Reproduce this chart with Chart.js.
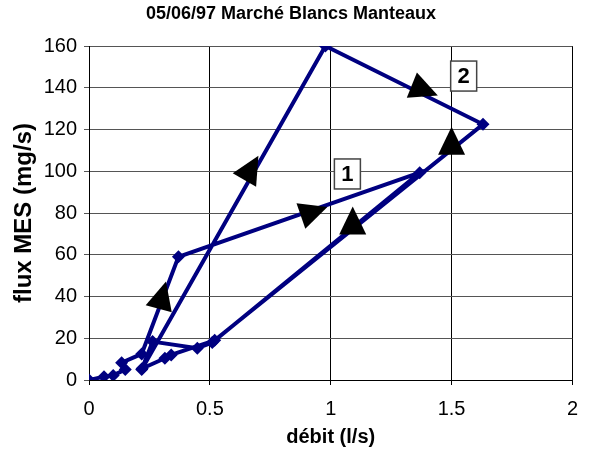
<!DOCTYPE html>
<html>
<head>
<meta charset="utf-8">
<script src="https://cdn.jsdelivr.net/npm/chart.js@4"></script>
<style>
  html, body { margin: 0; padding: 0; background: #fff; }
  #wrap { width: 590px; height: 466px; }
</style>
</head>
<body>
<div id="wrap"><canvas id="chart"></canvas></div>
<script>
// débit (l/s) and flux MES (mg/s), in the order the points are joined
const debit   = [0, 0.062, 0.10, 0.15, 0.135, 0.218, 0.37, 1.368, 0.51, 0.448, 0.263, 0.218, 0.978, 1.63, 0.52, 0.34, 0.314, 0.22];
const fluxMES = [0, 1.6,   2.2,  5,    8.3,   12.5,  59,   99.3,  18,   15.2,  18.4,  5,     160,   122.5, 19,   12,   10.4,  5.5];

// axis ticks
const xTicks = [0, 0.5, 1, 1.5, 2];
const xTickLabels = ['0', '0.5', '1', '1.5', '2'];

// hand drawn arrows on the loops (data position, direction in degrees on screen)
const arrowX     = [0.302, 0.669, 0.926, 1.091, 1.50, 1.384];
const arrowY     = [40,    101,   80.5,  75.7,  114,  139];
const arrowAngle = [-75,   -60,   -19,   -90,   -90,  22];

// boxed loop numbers
const loopLabels = ['1', '2'];
const loopX      = [1.069, 1.55];
const loopY      = [98.7, 145.6];

const navy = '#000080';
const font = '"Liberation Sans", Arial, sans-serif';

const annotations = {
    id: 'annotations',
    afterDatasetsDraw(chart) {
        const ctx = chart.ctx;
        const xs = chart.scales.x;
        const ys = chart.scales.y;
        ctx.save();

        // arrows
        ctx.fillStyle = '#000';
        for (let i = 0; i < arrowX.length; i++) {
            const cx = xs.getPixelForValue(arrowX[i]);
            const cy = ys.getPixelForValue(arrowY[i]);
            const a = arrowAngle[i] * Math.PI / 180;
            const dx = Math.cos(a), dy = Math.sin(a);
            const h = 28, w = 27;
            ctx.beginPath();
            ctx.moveTo(cx + dx * h * 0.55, cy + dy * h * 0.55);
            ctx.lineTo(cx - dx * h * 0.45 - dy * w / 2, cy - dy * h * 0.45 + dx * w / 2);
            ctx.lineTo(cx - dx * h * 0.45 + dy * w / 2, cy - dy * h * 0.45 - dx * w / 2);
            ctx.closePath();
            ctx.fill();
        }

        // numbered boxes
        ctx.font = 'bold 22px ' + font;
        ctx.textAlign = 'center';
        ctx.textBaseline = 'middle';
        for (let i = 0; i < loopLabels.length; i++) {
            const cx = xs.getPixelForValue(loopX[i]);
            const cy = ys.getPixelForValue(loopY[i]);
            ctx.fillStyle = '#fff';
            ctx.fillRect(cx - 13, cy - 15, 26, 30);
            ctx.strokeStyle = '#444';
            ctx.lineWidth = 1.5;
            ctx.strokeRect(cx - 13, cy - 15, 26, 30);
            ctx.fillStyle = '#000';
            ctx.fillText(loopLabels[i], cx, cy + 1);
        }
        ctx.restore();
    }
};

const points = debit.map((x, i) => ({ x: x, y: fluxMES[i] }));

new Chart(document.getElementById('chart'), {
    type: 'scatter',
    data: {
        datasets: [{
            data: points,
            showLine: true,
            borderColor: navy,
            backgroundColor: navy,
            borderWidth: 4,
            pointStyle: 'rectRot',
            pointRadius: 6.5,
            pointBorderWidth: 0,
            tension: 0
        }]
    },
    options: {
        responsive: true,
        maintainAspectRatio: false,
        animation: false,
        layout: { padding: { left: 0, right: 8, top: 0, bottom: 0 } },
        plugins: {
            legend: { display: false },
            tooltip: { enabled: false },
            title: {
                display: true,
                text: '05/06/97 Marché Blancs Manteaux',
                color: '#000',
                font: { family: font, size: 18, weight: 'bold' },
                padding: { top: 3, bottom: 21.4 }
            }
        },
        scales: {
            x: {
                type: 'linear',
                min: 0,
                max: 2,
                afterBuildTicks(scale) { scale.ticks = xTicks.map(v => ({ value: v })); },
                ticks: {
                    color: '#000',
                    padding: 12,
                    font: { family: font, size: 20 },
                    callback: (v) => xTickLabels[xTicks.indexOf(v)]
                },
                grid: { color: '#000', tickLength: 5 },
                border: { color: '#000', width: 1 },
                title: {
                    display: true,
                    text: 'débit (l/s)',
                    color: '#000',
                    font: { family: font, size: 20, weight: 'bold' },
                    padding: { top: 0, bottom: 17 }
                },
                afterFit(scale) { scale.height = 86; }
            },
            y: {
                min: 0,
                max: 160,
                ticks: {
                    stepSize: 20,
                    color: '#000',
                    padding: 7,
                    font: { family: font, size: 20 }
                },
                grid: { color: '#555', tickLength: 5 },
                border: { color: '#000', width: 1 },
                title: {
                    display: true,
                    text: 'flux MES (mg/s)',
                    color: '#000',
                    font: { family: font, size: 24, weight: 'bold', lineHeight: 1 },
                    padding: { top: 12, bottom: 0 }
                },
                afterFit(scale) { scale.width = 89; }
            }
        }
    },
    plugins: [annotations]
});
</script>
</body>
</html>
